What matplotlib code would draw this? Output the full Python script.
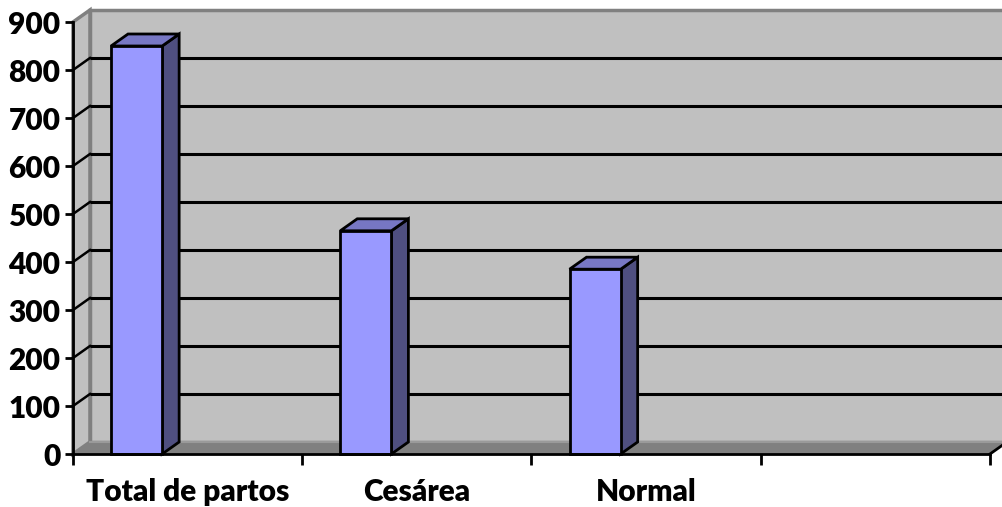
#!/usr/bin/env python3
"""Excel-style 3-D column chart of deliveries (total, caesarean, normal)."""

import matplotlib
matplotlib.use('Agg')
import matplotlib.pyplot as plt
from matplotlib.patches import Polygon

CATEGORIES = ['Total de partos', 'Cesárea', 'Normal']
VALUES = [850, 465, 385]
Y_TICKS = list(range(0, 1000, 100))

N_SLOTS = 4          # the category axis has one empty slot at the end
YMAX = 900
DX, DY = 0.074, 25   # depth offset of the back wall (data units)
BAR_X0, BAR_W = 0.166, 0.223

FRONT = '#9999FF'
TOP = '#7777C4'
SIDE = '#4F4F80'
WALL = '#C0C0C0'
FLOOR = '#808080'
FONT_SIZE = 21.5
WEIGHT = 'heavy'

plt.rcParams['font.family'] = ['Lato', 'DejaVu Sans']
plt.rcParams['font.weight'] = WEIGHT

fig = plt.figure(figsize=(10.03, 5.07), dpi=100)
W, H = 1003, 507
ax = fig.add_axes([73 / W, (H - 454) / H, (990 - 73) / W, (454 - 22) / H])
ax.set_xlim(0, N_SLOTS)
ax.set_ylim(0, YMAX)


def poly(pts, fc, ec='black', lw=2.0, z=2):
    ax.add_patch(Polygon(pts, closed=True, facecolor=fc, edgecolor=ec,
                         linewidth=lw, zorder=z, clip_on=False,
                         joinstyle='miter'))


# walls and floor
poly([(DX, DY), (N_SLOTS + DX, DY), (N_SLOTS + DX, YMAX + DY),
      (DX, YMAX + DY)], WALL, ec=FLOOR, lw=2.5, z=0)
poly([(0, 0), (DX, DY), (DX, YMAX + DY), (0, YMAX)], WALL, ec=FLOOR,
     lw=2.5, z=0)

# gridlines on back and side wall
for v in Y_TICKS[1:-1]:
    ax.plot([DX, N_SLOTS + DX], [v + DY, v + DY], color='black', lw=2.2,
            zorder=1, clip_on=False, solid_capstyle='butt')
    ax.plot([0, DX], [v, v + DY], color='black', lw=1.8, zorder=1,
            clip_on=False)

poly([(0, 0), (N_SLOTS, 0), (N_SLOTS + DX, DY), (DX, DY)], FLOOR,
     ec='none', lw=0, z=1.5)
ax.plot([DX, N_SLOTS + DX], [DY, DY], color='#9A9A9A', lw=1.5, zorder=1.6,
        clip_on=False)
ax.plot([N_SLOTS, N_SLOTS + DX], [0, DY], color='black', lw=2, zorder=1.6,
        clip_on=False)

# bars
for i, v in enumerate(VALUES):
    x0 = i + BAR_X0
    x1 = x0 + BAR_W
    poly([(x1, 0), (x1 + DX, DY), (x1 + DX, v + DY), (x1, v)], SIDE, z=3)
    poly([(x0, v), (x1, v), (x1 + DX, v + DY), (x0 + DX, v + DY)], TOP, z=3)
    poly([(x0, 0), (x1, 0), (x1, v), (x0, v)], FRONT, z=4)

# axes
for side in ('top', 'right'):
    ax.spines[side].set_visible(False)
for side in ('left', 'bottom'):
    ax.spines[side].set_linewidth(2)
    ax.spines[side].set_zorder(5)
ax.set_facecolor('none')

ax.set_yticks(Y_TICKS)
ax.set_yticklabels([str(v) for v in Y_TICKS], fontsize=FONT_SIZE,
                   fontweight=WEIGHT)
ax.tick_params(axis='y', length=6, width=2, pad=3)

ax.set_xticks(range(N_SLOTS + 1))
ax.set_xticklabels([])
ax.tick_params(axis='x', which='major', length=8, width=2, direction='out')
ax.set_xticks([i + 0.5 for i in range(len(CATEGORIES))], minor=True)
ax.set_xticklabels(CATEGORIES, minor=True, fontsize=FONT_SIZE,
                   fontweight=WEIGHT)
ax.tick_params(axis='x', which='minor', length=0, pad=17)

fig.savefig('out.png', dpi=100)
